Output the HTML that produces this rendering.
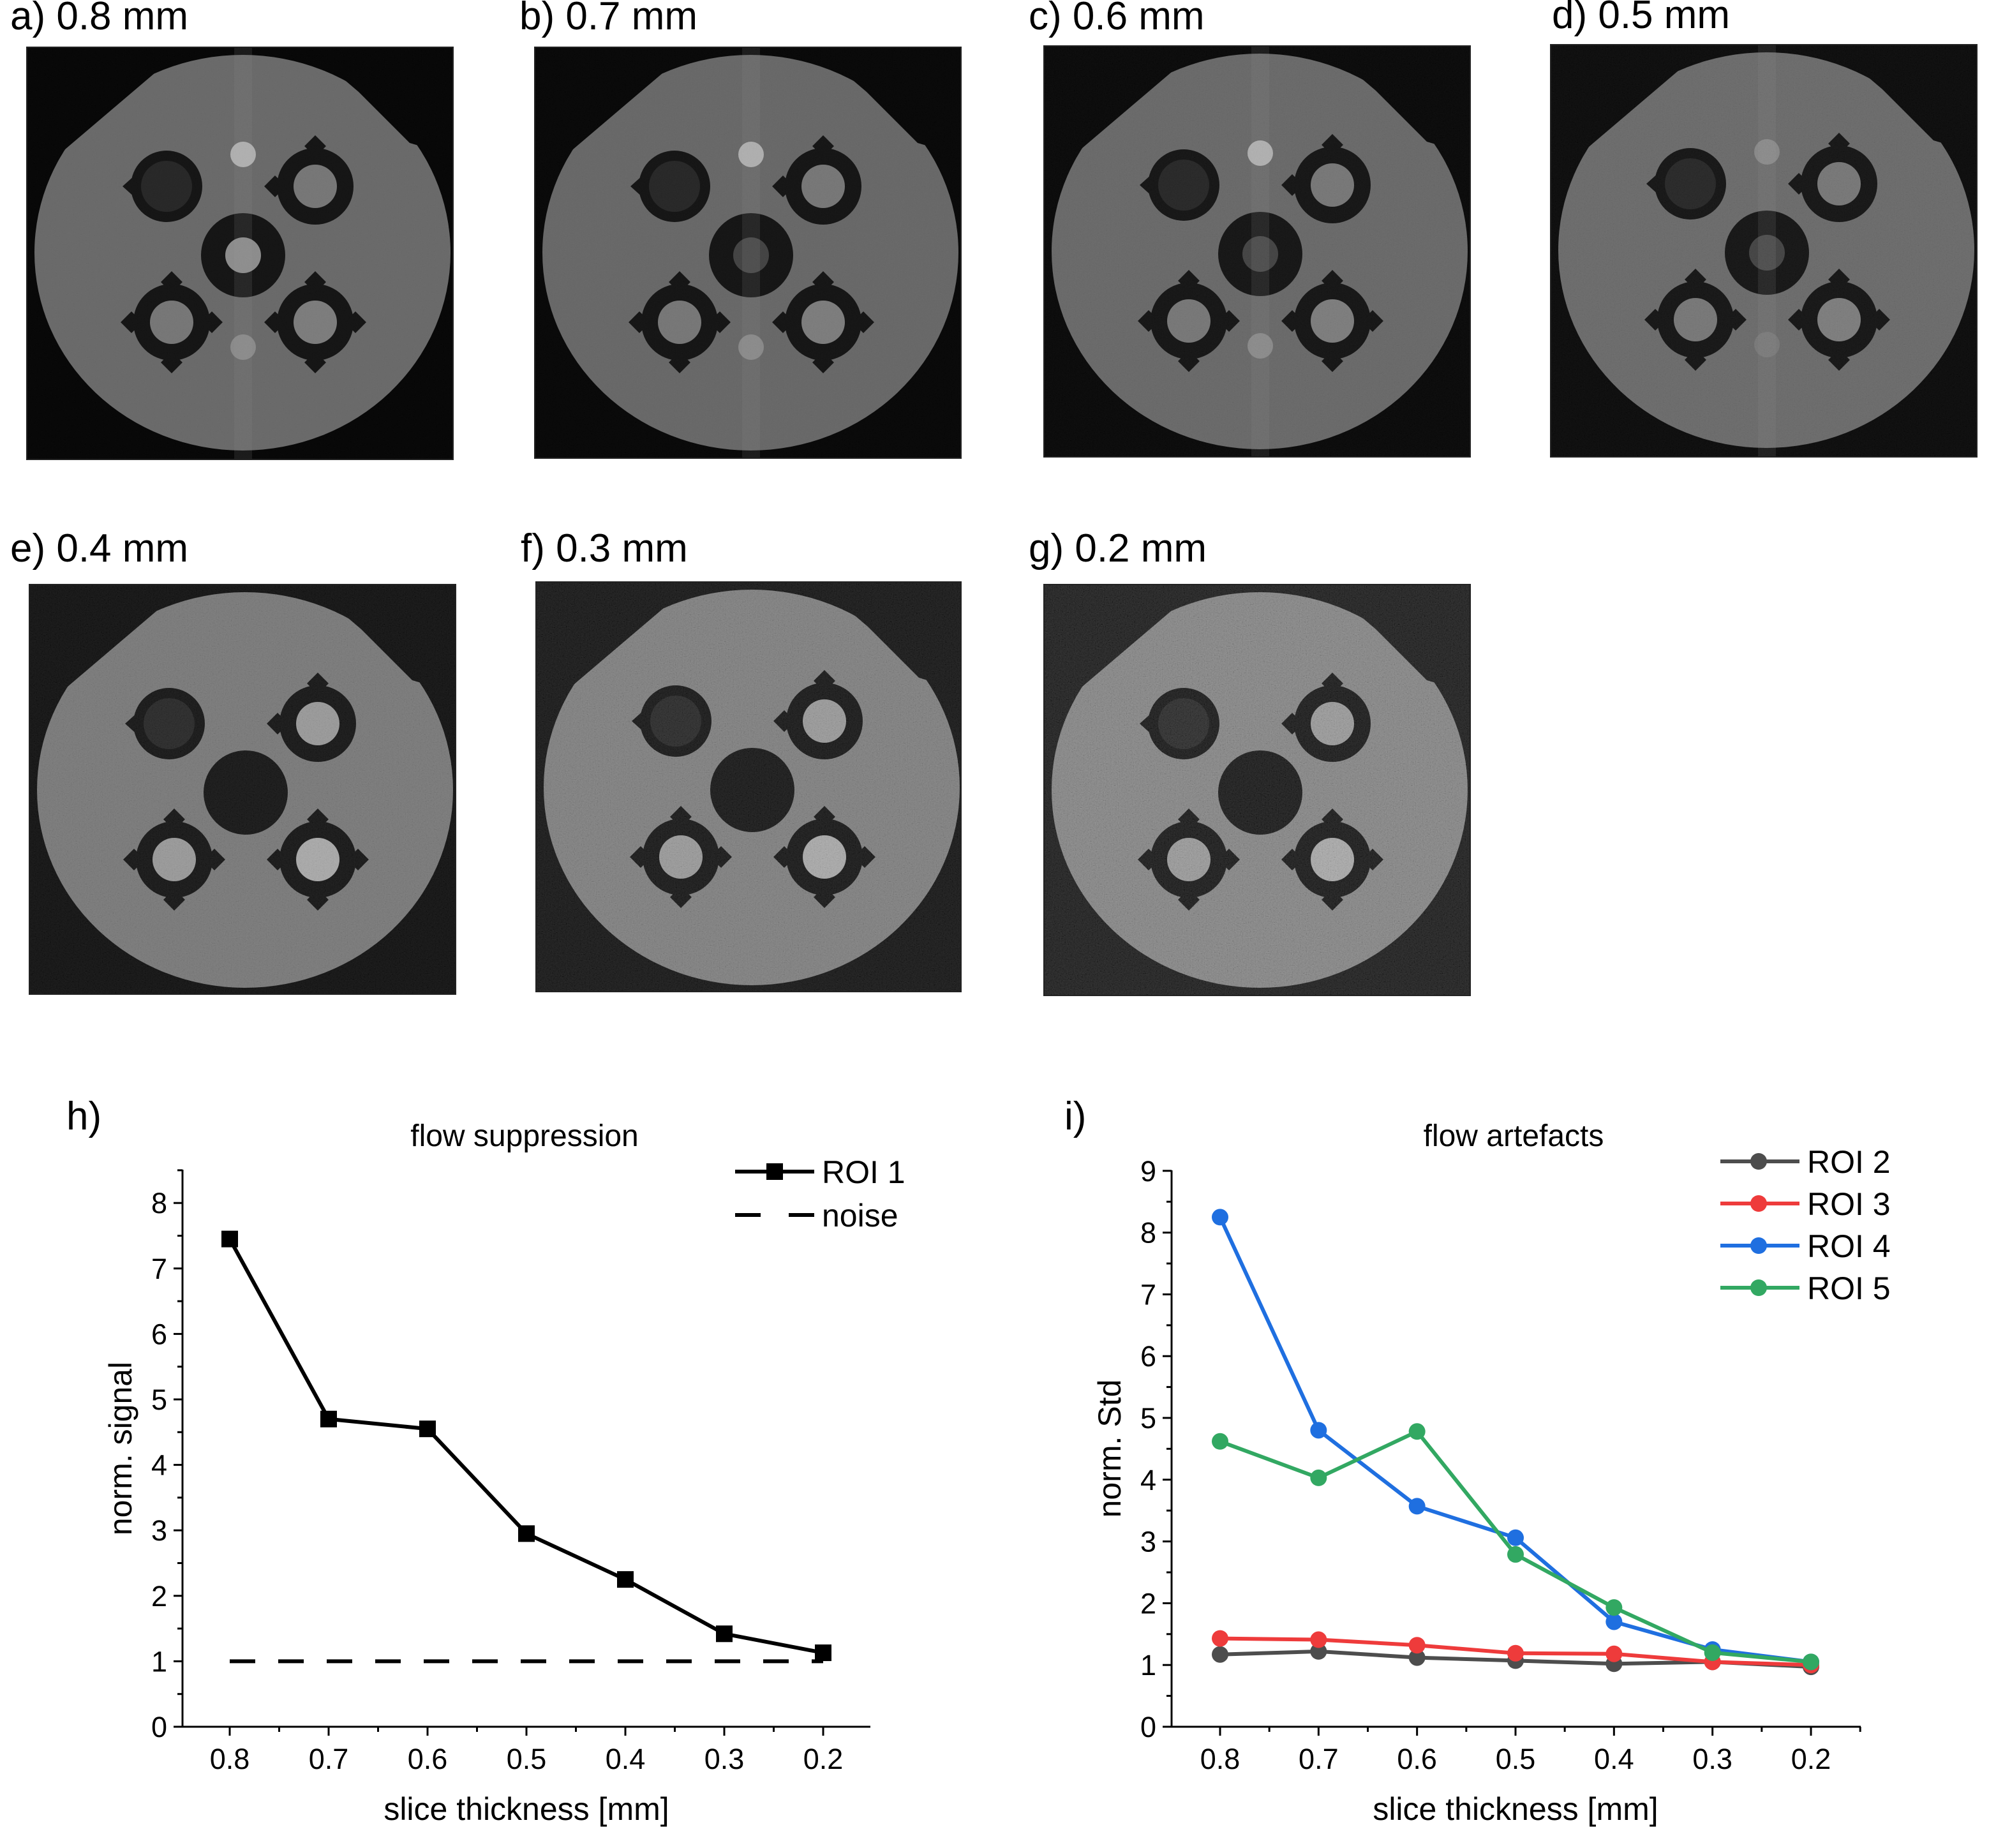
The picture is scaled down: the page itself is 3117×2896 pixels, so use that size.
<!DOCTYPE html>
<html><head><meta charset="utf-8"><style>
html,body{margin:0;padding:0;background:#fff;}
svg{display:block;font-family:"Liberation Sans",Arial,sans-serif;}
</style></head><body>
<svg id="fig" width="3117" height="2896" viewBox="0 0 3117 2896" xmlns="http://www.w3.org/2000/svg">
<defs>
<filter id="noise" x="0" y="0" width="100%" height="100%">
<feTurbulence type="fractalNoise" baseFrequency="0.55" numOctaves="2" seed="3"/>
<feColorMatrix type="matrix" values="0.33 0.33 0.33 0 0  0.33 0.33 0.33 0 0  0.33 0.33 0.33 0 0  0 0 0 0 1"/>
<feComponentTransfer><feFuncR type="linear" slope="2.4" intercept="-0.7"/><feFuncG type="linear" slope="2.4" intercept="-0.7"/><feFuncB type="linear" slope="2.4" intercept="-0.7"/></feComponentTransfer>
</filter>
</defs>
<g id="panels"></g>
<g id="chartH"></g>
<g id="chartI"></g>
</svg>
<script>
// ---------- chart data ----------
const xCats = [0.8, 0.7, 0.6, 0.5, 0.4, 0.3, 0.2];
const xTickLabels = ["0.8","0.7","0.6","0.5","0.4","0.3","0.2"];
const roi1 = [7.45, 4.7, 4.55, 2.95, 2.25, 1.42, 1.13];
const noiseLevel = [1, 1, 1, 1, 1, 1, 1];
const hTicks = [0,1,2,3,4,5,6,7,8];
const roi2 = [1.17, 1.22, 1.12, 1.07, 1.02, 1.05, 0.97];
const roi3 = [1.43, 1.41, 1.32, 1.19, 1.18, 1.05, 1.0];
const roi4 = [8.25, 4.8, 3.57, 3.06, 1.7, 1.25, 1.05];
const roi5 = [4.62, 4.03, 4.78, 2.79, 1.93, 1.2, 1.05];
const iTicks = [0,1,2,3,4,5,6,7,8,9];

const NS = "http://www.w3.org/2000/svg";
function mk(parent, tag, attrs, text){
  const e = document.createElementNS(NS, tag);
  for (const k in attrs) e.setAttribute(k, attrs[k]);
  if (text !== undefined) e.textContent = text;
  parent.appendChild(e);
  return e;
}

// ---------- phantom image panels ----------
const panels = [
  {lab:"a) 0.8 mm", x:42, y:74, w:668, h:646, lx:16, ly:46, disk:"#696969", bg:"#050505", n:0.015, streak:true},
  {lab:"b) 0.7 mm", x:838, y:74, w:668, h:644, lx:814, ly:46, disk:"#676767", bg:"#060606", n:0.02, streak:true},
  {lab:"c) 0.6 mm", x:1636, y:72, w:668, h:644, lx:1612, ly:46, disk:"#686868", bg:"#070707", n:0.03, streak:true},
  {lab:"d) 0.5 mm", x:2430, y:70, w:668, h:646, lx:2432, ly:44, disk:"#6a6a6a", bg:"#090909", n:0.04, streak:true},
  {lab:"e) 0.4 mm", x:46, y:916, w:668, h:642, lx:16, ly:880, disk:"#787878", bg:"#0e0e0e", n:0.07, streak:false},
  {lab:"f) 0.3 mm", x:840, y:912, w:666, h:642, lx:816, ly:880, disk:"#7e7e7e", bg:"#121212", n:0.1, streak:false},
  {lab:"g) 0.2 mm", x:1636, y:916, w:668, h:644, lx:1612, ly:880, disk:"#848484", bg:"#181818", n:0.13, streak:false}
];
const pg = document.getElementById("panels");
panels.forEach((p, i) => {
  const g = mk(pg, "g", {transform:`translate(${p.x},${p.y})`});
  
  
  const cp = mk(g, "clipPath", {id:"cp"+i});
  mk(cp, "rect", {x:0, y:0, width:p.w, height:p.h});
  const inner = mk(g, "g", {"clip-path":`url(#cp${i})`});
  mk(inner, "rect", {x:0, y:0, width:p.w, height:p.h, fill:p.bg});
  const dc = mk(inner, "clipPath", {id:"dk"+i});
  mk(dc, "path", {d:`M0 170 L60 160 L234 12 L452 12 L520 70 L600 150 L${p.w} 170 L${p.w} ${p.h} L0 ${p.h} Z`});
  mk(inner, "ellipse", {cx:338, cy:322, rx:326, ry:310, fill:p.disk, "clip-path":`url(#dk${i})`});
  const dark = "#131313";
  mk(inner, "circle", {cx:219, cy:218, r:56, fill:dark});
  mk(inner, "polygon", {points:"150,218 170,200 170,236", fill:dark});
  mk(inner, "circle", {cx:219, cy:218, r:40, fill:"#262626"});
  [[452,218],[227,431],[452,431]].forEach((c, k) => {
    mk(inner, "circle", {cx:c[0], cy:c[1], r:60, fill:dark});
    mk(inner, "rect", {x:c[0]-12, y:c[1]-75, width:24, height:24, fill:dark, transform:`rotate(45 ${c[0]} ${c[1]-63})`});
    mk(inner, "rect", {x:c[0]-75, y:c[1]-12, width:24, height:24, fill:dark, transform:`rotate(45 ${c[0]-63} ${c[1]})`});
    if (k>0) {
      mk(inner, "rect", {x:c[0]-12, y:c[1]+51, width:24, height:24, fill:dark, transform:`rotate(45 ${c[0]} ${c[1]+63})`});
      mk(inner, "rect", {x:c[0]+51, y:c[1]-12, width:24, height:24, fill:dark, transform:`rotate(45 ${c[0]+63} ${c[1]})`});
    }
    mk(inner, "circle", {cx:c[0], cy:c[1], r:34, fill: i<4 ? (k===2 ? "#7c7c7c" : "#767676") : (k===2 ? "#a8a8a8" : "#989898")});
  });
  mk(inner, "circle", {cx:339, cy:326, r:66, fill:dark});
  if (p.streak) {
    mk(inner, "rect", {x:325, y:0, width:28, height:p.h, fill:"#8a8a8a", opacity:0.15});
    mk(inner, "circle", {cx:339, cy:326, r:28, fill:"#9a9a9a", opacity: i<1?0.9:0.35});
    mk(inner, "circle", {cx:339, cy:168, r:20, fill:"#c0c0c0", opacity: i<3?0.8:0.35});
    mk(inner, "circle", {cx:339, cy:470, r:20, fill:"#999999", opacity: i<3?0.7:0.3});
  }
  mk(inner, "rect", {x:0, y:0, width:p.w, height:p.h, filter:"url(#noise)", opacity:p.n});
  mk(g, "rect", {x:0, y:0, width:p.w, height:p.h, fill:"none", stroke:"#222", "stroke-width":2});
  const t = mk(pg, "text", {x:p.lx, y:p.ly, "font-size":62, fill:"#000"}, p.lab);
  
  
});

// ---------- generic chart ----------
function drawChart(root, cfg){
  const X = v => cfg.x08 + (0.8 - v) / 0.6 * (cfg.x02 - cfg.x08);
  const Y = v => cfg.y0 - v * cfg.unit;
  const ax = mk(root, "line", {x1:cfg.ax, y1:cfg.y0, x2:cfg.ax, y2:cfg.ytop, stroke:"#000", "stroke-width":3});
   
  const bx = mk(root, "line", {x1:cfg.ax, y1:cfg.y0, x2:cfg.axr, y2:cfg.y0, stroke:"#000", "stroke-width":3});
   
  cfg.yTicks.forEach(v => {
    mk(root, "line", {x1:cfg.ax-14, y1:Y(v), x2:cfg.ax, y2:Y(v), stroke:"#000", "stroke-width":3});
    if (v + 0.5 <= cfg.ymax) mk(root, "line", {x1:cfg.ax-8, y1:Y(v+0.5), x2:cfg.ax, y2:Y(v+0.5), stroke:"#000", "stroke-width":3});
    const t = mk(root, "text", {x:cfg.ax-24, y:Y(v)+16, "font-size":45, "text-anchor":"end"}, String(v));
     
  });
  xCats.forEach((c, k) => {
    mk(root, "line", {x1:X(c), y1:cfg.y0, x2:X(c), y2:cfg.y0+14, stroke:"#000", "stroke-width":3});
    const t = mk(root, "text", {x:X(c), y:cfg.y0+66, "font-size":45, "text-anchor":"middle"}, xTickLabels[k]);
     
  });
  [0.85, 0.75, 0.65, 0.55, 0.45, 0.35, 0.25, 0.15].forEach(c => {
    const px = X(c);
    if (px >= cfg.ax && px <= cfg.axr) mk(root, "line", {x1:px, y1:cfg.y0, x2:px, y2:cfg.y0+8, stroke:"#000", "stroke-width":3});
  });
  const xt = mk(root, "text", {x:(cfg.x08+cfg.x02)/2, y:cfg.y0+146, "font-size":50, "text-anchor":"middle"}, "slice thickness [mm]");
   
  const ytx = cfg.ax - 80, yty = cfg.ytitleY;
  const yt = mk(root, "text", {x:ytx, y:yty, "font-size":50, "text-anchor":"middle", transform:`rotate(-90 ${ytx} ${yty})`}, cfg.ytitle);
   
  const tt = mk(root, "text", {x:cfg.titleX, y:cfg.titleY, "font-size":48, "text-anchor":"middle"}, cfg.title);
   
  const pl = mk(root, "text", {x:cfg.plx, y:cfg.ply, "font-size":62}, cfg.plabel);
   
  return {X, Y};
}

// ---------- chart h ----------
const gh = document.getElementById("chartH");
const h = drawChart(gh, {ax:286, axr:1364, y0:2706, ytop:1833, unit:102.6, ymax:8.5, x08:360, x02:1290,
  yTicks:hTicks, ytitle:"norm. signal", ytitleY:2270, title:"flow suppression", titleX:822, titleY:1796, plabel:"h)", plx:104, ply:1770});
const noiseLine = mk(gh, "polyline", {points: xCats.map((c,k)=>h.X(c)+","+h.Y(noiseLevel[k])).join(" "), fill:"none", stroke:"#000", "stroke-width":6, "stroke-dasharray":"40 36"});
 
const r1 = mk(gh, "polyline", {points: xCats.map((c,k)=>h.X(c)+","+h.Y(roi1[k])).join(" "), fill:"none", stroke:"#000", "stroke-width":6});
 
xCats.forEach((c,k) => {
  const m = mk(gh, "rect", {x:h.X(c)-13, y:h.Y(roi1[k])-13, width:26, height:26, fill:"#000"});
   
});
const lh = mk(gh, "g", {});
 
mk(lh, "line", {x1:1152, y1:1836, x2:1276, y2:1836, stroke:"#000", "stroke-width":6});
mk(lh, "rect", {x:1201, y:1823, width:26, height:26, fill:"#000"});
mk(lh, "text", {x:1288, y:1854, "font-size":50}, "ROI 1");
mk(lh, "line", {x1:1152, y1:1904, x2:1192, y2:1904, stroke:"#000", "stroke-width":6});
mk(lh, "line", {x1:1236, y1:1904, x2:1276, y2:1904, stroke:"#000", "stroke-width":6});
mk(lh, "text", {x:1288, y:1922, "font-size":50}, "noise");

// ---------- chart i ----------
const gi = document.getElementById("chartI");
const ic = drawChart(gi, {ax:1836, axr:2916, y0:2706, ytop:1834, unit:96.8, ymax:9, x08:1912, x02:2838,
  yTicks:iTicks, ytitle:"norm. Std", ytitleY:2270, title:"flow artefacts", titleX:2372, titleY:1796, plabel:"i)", plx:1668, ply:1770});
const seriesI = [
  {name:"ROI 2", vals:roi2, color:"#4d4d4d"},
  {name:"ROI 3", vals:roi3, color:"#ee3b3b"},
  {name:"ROI 4", vals:roi4, color:"#1f6fe0"},
  {name:"ROI 5", vals:roi5, color:"#32a862"}
];
seriesI.forEach((s, si) => {
  const sg = mk(gi, "g", {});
  
  
  mk(sg, "polyline", {points: xCats.map((c,k)=>ic.X(c)+","+ic.Y(s.vals[k])).join(" "), fill:"none", stroke:s.color, "stroke-width":6});
  xCats.forEach((c,k) => {
    const m = mk(sg, "circle", {cx:ic.X(c), cy:ic.Y(s.vals[k]), r:13, fill:s.color});
     
  });
  const ly = 1820 + si * 66;
  const le = mk(gi, "g", {});
   
  mk(le, "line", {x1:2696, y1:ly, x2:2820, y2:ly, stroke:s.color, "stroke-width":6});
  mk(le, "circle", {cx:2756, cy:ly, r:13, fill:s.color});
  mk(le, "text", {x:2832, y:ly+18, "font-size":50}, s.name);
});
</script>
</body></html>
